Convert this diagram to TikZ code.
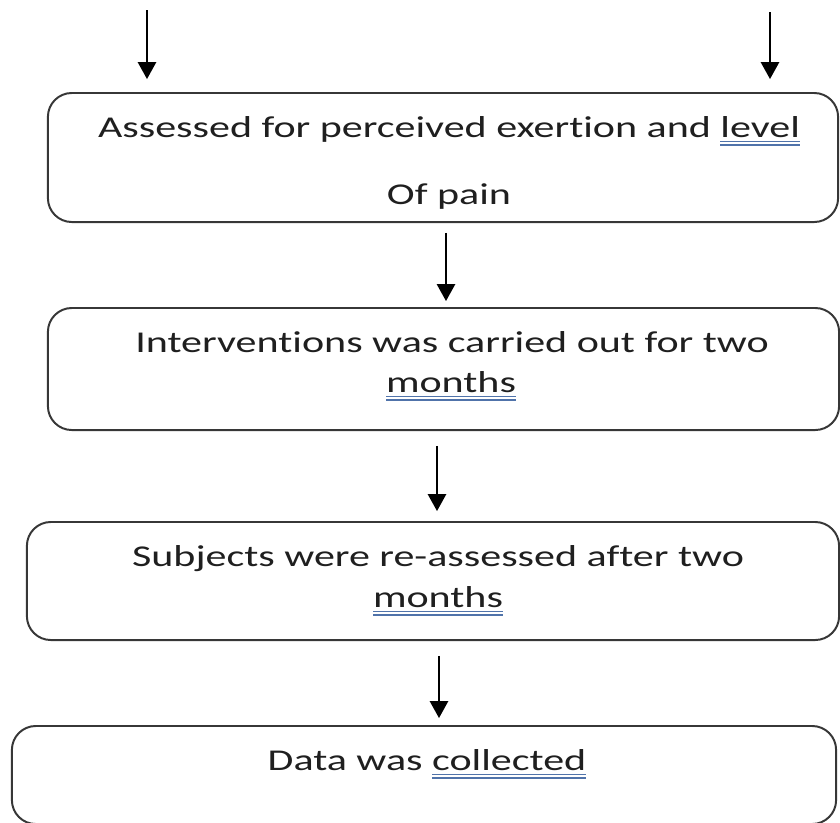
\documentclass[tikz,border=0pt]{standalone}
\usepackage{fontspec}
\usepackage{graphicx}
\setmainfont{Carlito}[Ligatures=NoCommon]
\usetikzlibrary{arrows.meta}
\definecolor{ulblue}{RGB}{80,115,170}
\definecolor{edge}{RGB}{55,55,55}
% the reference is stretched sideways, so is the text
\newcommand\wide[1]{\scalebox{1.39}[1]{#1}}
% double underline of the spell checker
\newcommand\dblul[1]{\setbox0\hbox{#1}\rlap{\color{ulblue}\rule[-3.6pt]{\wd0}{1pt}}\rlap{\color{ulblue}\rule[-6.2pt]{\wd0}{1pt}}\box0}
\begin{document}
\begin{tikzpicture}[x=0.025cm, y=-0.025cm, font=\fontsize{21.5}{26}\selectfont, line join=round,
  box/.style={draw=edge, line width=1.4pt, rounded corners=17pt, inner sep=0pt},
  txt/.style={anchor=base, inner sep=0pt, text=black!88},
  arr/.style={line width=1.1pt, -{Triangle[width=13pt,length=12pt]}}]
\useasboundingbox (0,0) rectangle (840,822);
\clip (0,0) rectangle (840,822);
\node[box, minimum width=19.75cm, minimum height=3.225cm] (b1) at (443,157.5) {};
\node[box, minimum width=19.775cm, minimum height=3.05cm] (b2) at (443.5,369) {};
\node[box, minimum width=20.3cm, minimum height=2.95cm] (b3) at (433,581) {};
\node[box, minimum width=20.6cm, minimum height=2.45cm] (b4) at (424,775) {};
\node[txt] (t1) at (449,137) {\wide{Assessed for perceived exertion and \dblul{level}}};
\node[txt] (t1b) at (449,204) {\wide{Of pain}};
\node[txt] (t2) at (452,352) {\wide{Interventions was carried out for two}};
\node[txt] (t2b) at (451,392) {\wide{\dblul{months}}};
\node[txt] (t3) at (438,566) {\wide{Subjects were re-assessed after two}};
\node[txt] (t3b) at (438,607) {\wide{\dblul{months}}};
\node[txt] (t4) at (427,770) {\wide{Data was \dblul{collected}}};
\coordinate (l0) at (147,10);
\coordinate (r0) at (770,12);
\draw[arr, shorten >=13pt*0.709] (l0) -- (b1.north -| l0);
\draw[arr, shorten >=13pt*0.709] (r0) -- (b1.north -| r0);
\draw[arr, shorten <=10pt*0.709, shorten >=6pt*0.709] (b1.south -| 446,0) -- (b2.north -| 446,0);
\draw[arr, shorten <=15pt*0.709, shorten >=10pt*0.709] (b2.south -| 437,0) -- (b3.north -| 437,0);
\draw[arr, shorten <=15pt*0.709, shorten >=7pt*0.709] (b3.south -| 439,0) -- (b4.north -| 439,0);
\end{tikzpicture}
\end{document}
